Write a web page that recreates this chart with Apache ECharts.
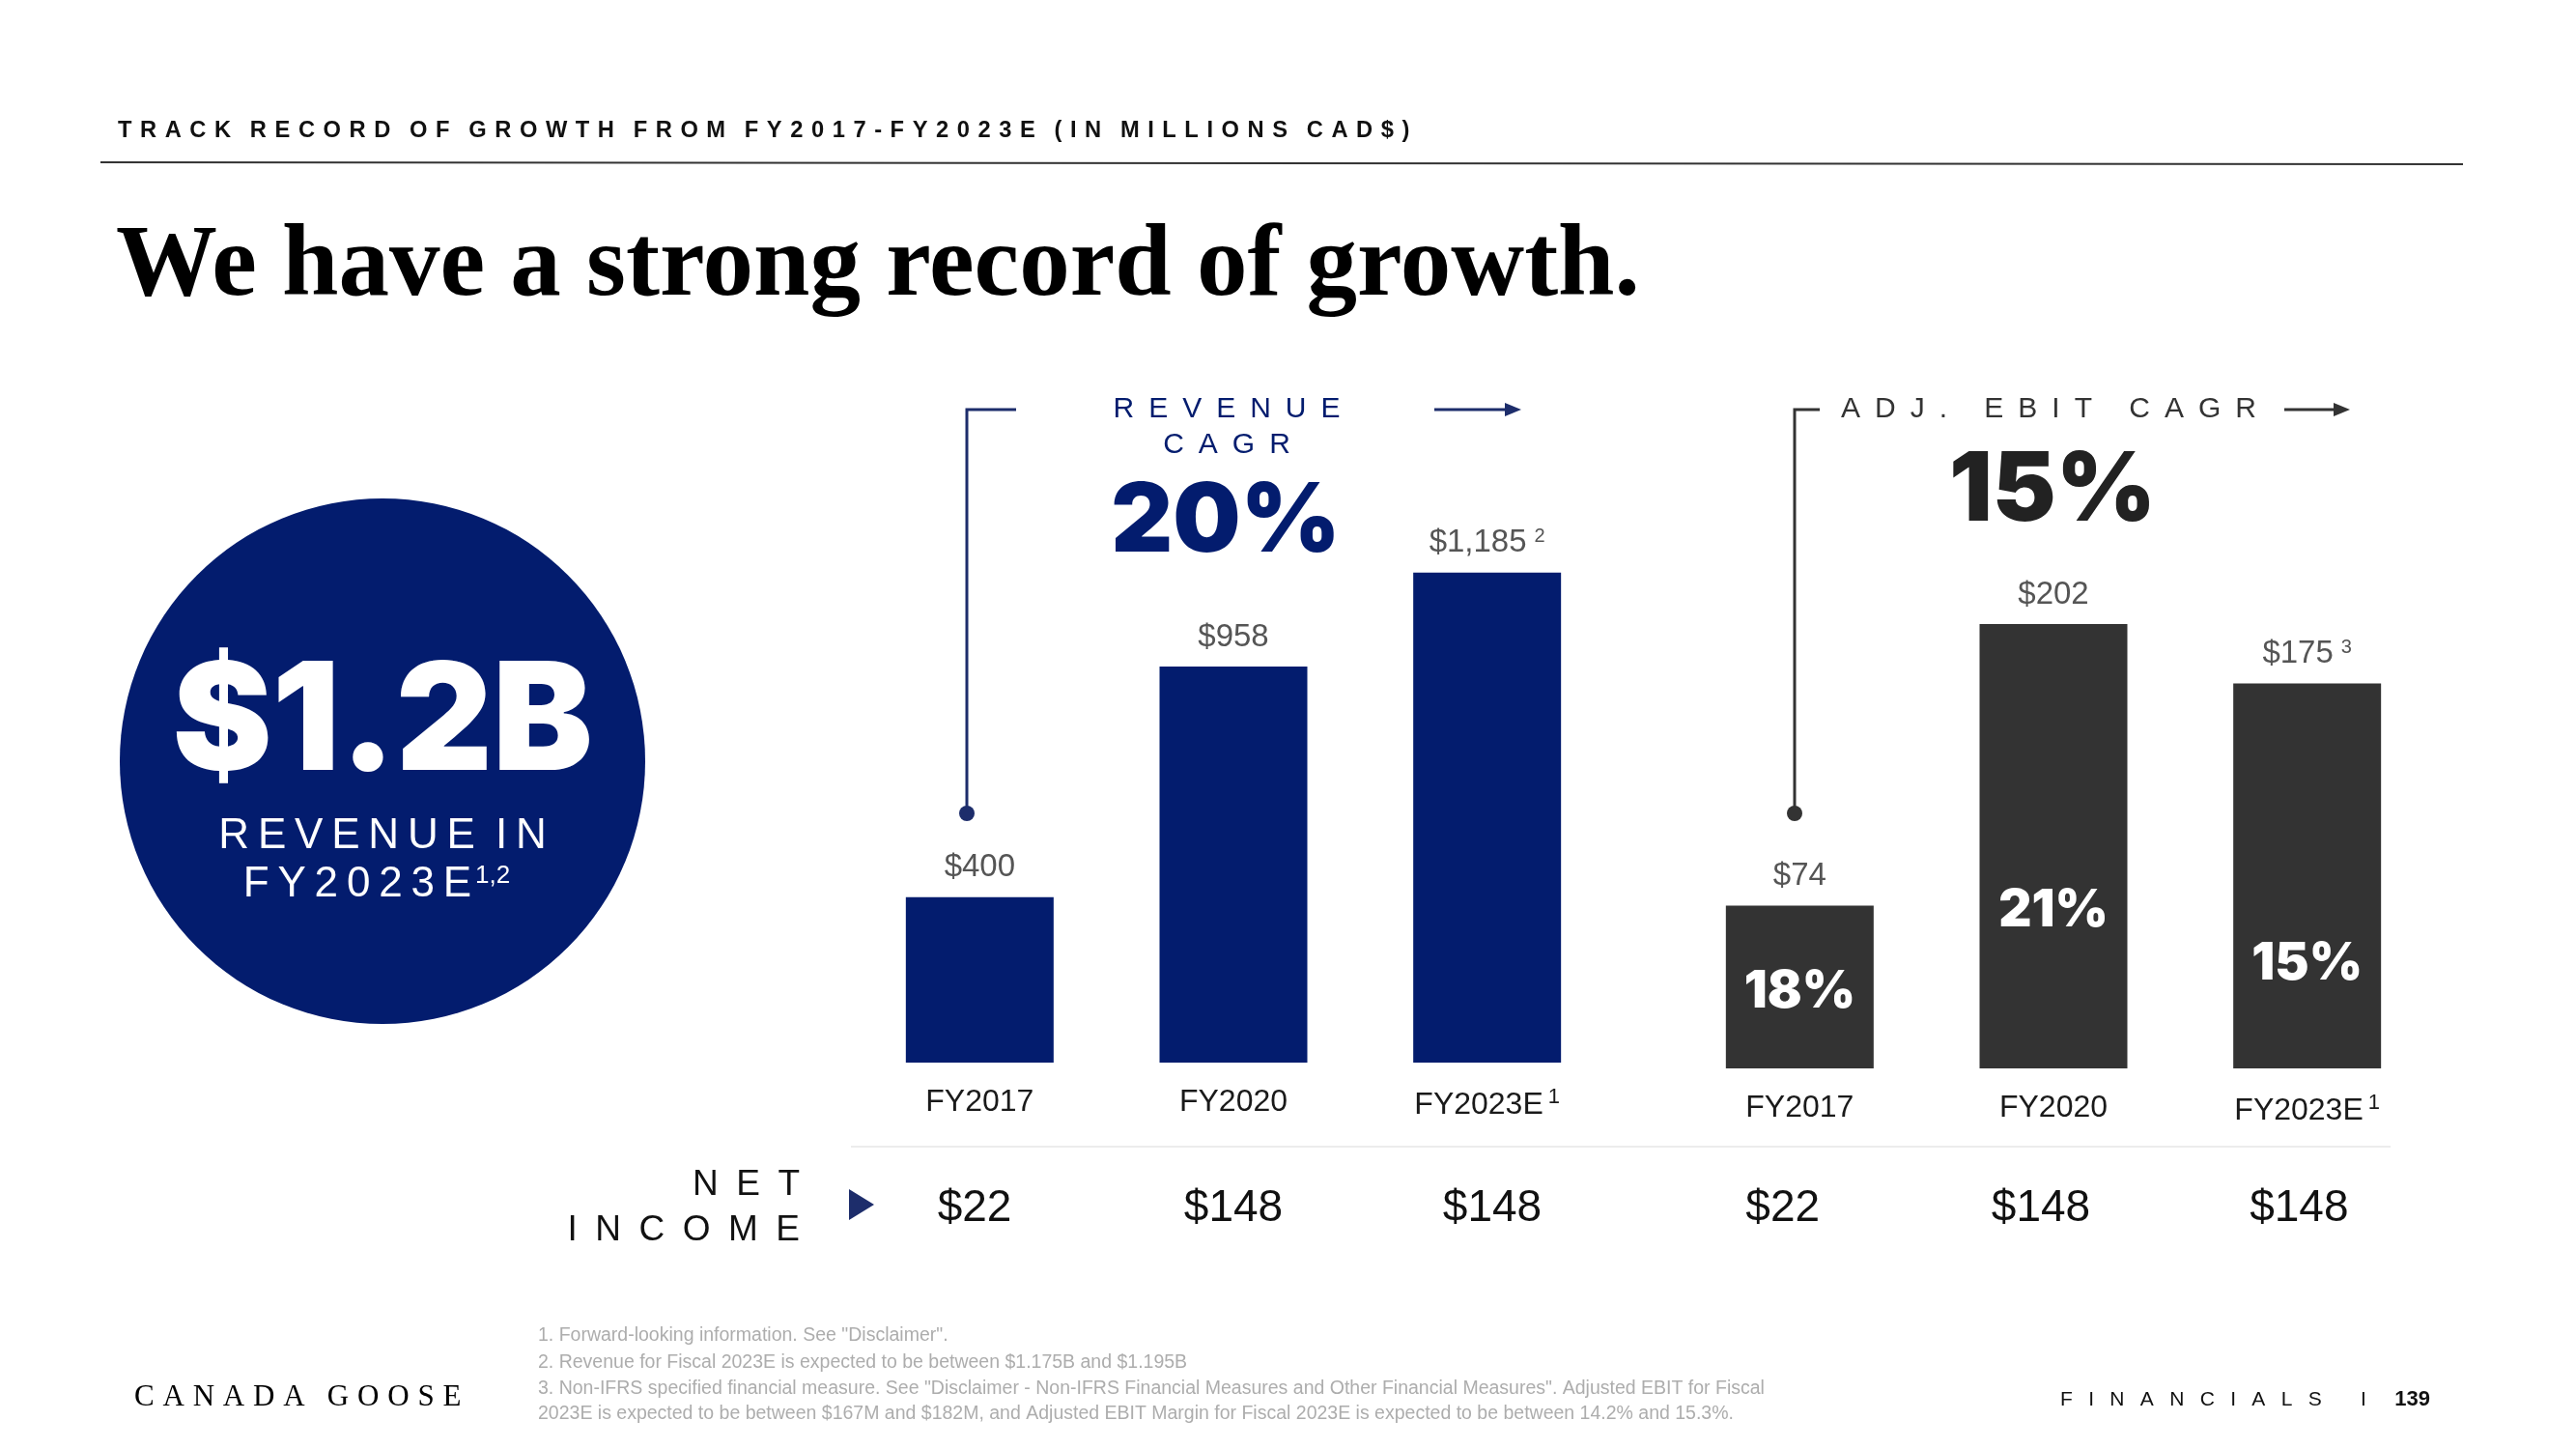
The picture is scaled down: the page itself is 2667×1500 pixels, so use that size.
<!DOCTYPE html>
<html>
<head>
<meta charset="utf-8">
<script src="https://cdn.jsdelivr.net/npm/echarts@6/dist/echarts.min.js"></script>
<style>
html,body{margin:0;padding:0;background:#fff;}
#chart{width:2667px;height:1500px;}
</style>
</head>
<body>
<div id="chart"></div>
<script>
// ---------- DATA ----------
const revenueCategories = ['FY2017', 'FY2020', 'FY2023E'];
const revenueValues = [400, 958, 1185];
const ebitCategories = ['FY2017', 'FY2020', 'FY2023E'];
const adjEbitValues = [74, 202, 175];
const adjEbitMargins = ['18%', '21%', '15%'];
const netIncomeRevenue = [22, 148, 148];
const netIncomeEbit = [22, 148, 148];
const revenueCagr = '20%';
const ebitCagr = '15%';
const categoryFootnote = { 'FY2023E': '1' };
const revenueFootnotes = ['', '', '2'];
const ebitFootnotes = ['', '', '3'];
const headlineValue = '$1.2B';
const footnotes = [
  '1. Forward-looking information. See "Disclaimer".',
  '2. Revenue for Fiscal 2023E is expected to be between $1.175B and $1.195B',
  '3. Non-IFRS specified financial measure. See "Disclaimer - Non-IFRS Financial Measures and Other Financial Measures". Adjusted EBIT for Fiscal',
  '2023E is expected to be between $167M and $182M, and Adjusted EBIT Margin for Fiscal 2023E is expected to be between 14.2% and 15.3%.'
];

// ---------- STYLE ----------
const NAVY = '#031c6e';
const DARK = '#333333';
const SANS = '"Liberation Sans", Arial, Helvetica, sans-serif';
const HEAVY = 'Inter, Roboto, "Liberation Sans", Arial, sans-serif';
const SERIF = '"Liberation Serif", "Times New Roman", serif';
const marginLabelPos = ['53%', '64.5%', '73%'];

function spaced(s, sep, wordSep) {
  return s.split(' ').map(w => w.split('').join(sep)).join(wordSep);
}
function money(v) { return '$' + v.toLocaleString('en-US'); }

const chart = echarts.init(document.getElementById('chart'), null, { renderer: 'canvas', width: 2667, height: 1500 });

const catLabel = (margin) => ({
  interval: 0, fontSize: 32, color: '#1a1a1a', fontFamily: SANS, margin: margin,
  formatter: v => categoryFootnote[v] ? v + '{sup|' + categoryFootnote[v] + '}' : v,
  rich: { sup: { fontSize: 22, color: '#1a1a1a', fontFamily: SANS, verticalAlign: 'top', padding: [0, 0, 16, 5] } }
});
const niLabel = { interval: 0, fontSize: 46, color: '#111', fontFamily: SANS, margin: 0 };
const noLine = { axisLine: { show: false }, axisTick: { show: false } };

const option = {
  backgroundColor: '#ffffff',
  animation: false,
  grid: [
    { left: 883, top: 586.4, width: 788, height: 513.6 },
    { left: 1732, top: 605, width: 788, height: 501 },
    { left: 875, top: 1200, width: 804, height: 28 },
    { left: 1712, top: 1200, width: 802, height: 28 }
  ],
  xAxis: [
    Object.assign({ type: 'category', gridIndex: 0, data: revenueCategories, axisLabel: catLabel(25) }, noLine),
    Object.assign({ type: 'category', gridIndex: 1, data: ebitCategories, axisLabel: catLabel(25) }, noLine),
    Object.assign({ type: 'category', gridIndex: 2, data: netIncomeRevenue.map(money), axisLabel: niLabel }, noLine),
    Object.assign({ type: 'category', gridIndex: 3, data: netIncomeEbit.map(money), axisLabel: niLabel }, noLine)
  ],
  yAxis: [
    { type: 'value', gridIndex: 0, min: 0, max: 1200, show: false, splitLine: { show: false } },
    { type: 'value', gridIndex: 1, min: 0, max: 220, show: false, splitLine: { show: false } },
    { type: 'value', gridIndex: 2, show: false, splitLine: { show: false } },
    { type: 'value', gridIndex: 3, show: false, splitLine: { show: false } }
  ],
  series: [
    {
      type: 'bar', xAxisIndex: 0, yAxisIndex: 0, data: revenueValues, barWidth: 153,
      itemStyle: { color: NAVY },
      label: {
        show: true, position: 'top', distance: 14, fontSize: 33, color: '#555', fontFamily: SANS,
        formatter: p => money(p.value) + (revenueFootnotes[p.dataIndex] ? '{sup|' + revenueFootnotes[p.dataIndex] + '}' : ''),
        rich: { sup: { fontSize: 20, color: '#555', fontFamily: SANS, verticalAlign: 'top', padding: [0, 0, 12, 8] } }
      }
    },
    {
      type: 'bar', xAxisIndex: 1, yAxisIndex: 1, data: adjEbitValues, barWidth: 153, barGap: '-100%',
      itemStyle: { color: DARK },
      label: {
        show: true, position: 'top', distance: 14, fontSize: 33, color: '#555', fontFamily: SANS,
        formatter: p => money(p.value) + (ebitFootnotes[p.dataIndex] ? '{sup|' + ebitFootnotes[p.dataIndex] + '}' : ''),
        rich: { sup: { fontSize: 20, color: '#555', fontFamily: SANS, verticalAlign: 'top', padding: [0, 0, 12, 8] } }
      }
    },
    {
      type: 'bar', xAxisIndex: 1, yAxisIndex: 1, barWidth: 153, barGap: '-100%', silent: true,
      itemStyle: { color: 'rgba(0,0,0,0)' },
      data: adjEbitValues.map((v, i) => ({
        value: v,
        label: { position: ['50%', marginLabelPos[i]] }
      })),
      label: {
        show: true, align: 'center', verticalAlign: 'middle', fontSize: 53, fontWeight: 900, color: '#fff', fontFamily: HEAVY,
        formatter: p => adjEbitMargins[p.dataIndex]
      }
    }
  ],
  graphic: [
    // header
    { type: 'text', style: { text: spaced('TRACK RECORD OF GROWTH FROM FY2017-FY2023E (IN MILLIONS CAD$)', ' \u200A', '   '), x: 122, y: 135, font: 'bold 23.7px ' + SANS, fill: '#111', textVerticalAlign: 'middle', verticalAlign: 'middle' } },
    { type: 'line', shape: { x1: 104, y1: 168, x2: 2550, y2: 170 }, style: { stroke: '#333', lineWidth: 2 } },
    { type: 'text', style: { text: 'We have a strong record of growth.', x: 120, y: 330, font: 'bold 105px ' + SERIF, fill: '#000', textVerticalAlign: 'bottom', verticalAlign: 'bottom' } },

    // circle
    { type: 'circle', shape: { cx: 396, cy: 788, r: 272 }, style: { fill: NAVY } },
    { type: 'text', style: { text: headlineValue, x: 396, y: 750, font: '900 155px ' + HEAVY, fill: '#fff', textAlign: 'center', align: 'center', textVerticalAlign: 'middle', verticalAlign: 'middle' } },
    { type: 'text', style: { text: spaced('REVENUE IN', '\u2009', ' \u2009'), x: 396, y: 866, font: '44px ' + SANS, fill: '#fff', textAlign: 'center', align: 'center', textVerticalAlign: 'middle', verticalAlign: 'middle' } },
    { type: 'text', style: { text: spaced('FY2023E', '\u2009', ' ') + '{sup|1,2}', x: 390, y: 916, font: '44px ' + SANS, fill: '#fff', textAlign: 'center', align: 'center', textVerticalAlign: 'middle', verticalAlign: 'middle',
      rich: { sup: { fontSize: 26, fill: '#fff', fontFamily: SANS, verticalAlign: 'top', padding: [0, 0, 14, 4] } } } },

    // revenue bracket
    { type: 'polyline', shape: { points: [[1052, 424], [1001, 424], [1001, 842]] }, style: { stroke: '#1d2d6b', lineWidth: 3, fill: null } },
    { type: 'circle', shape: { cx: 1001, cy: 842, r: 8 }, style: { fill: '#1d2d6b' } },
    { type: 'line', shape: { x1: 1485, y1: 424, x2: 1562, y2: 424 }, style: { stroke: '#1d2d6b', lineWidth: 3 } },
    { type: 'polygon', shape: { points: [[1558, 417], [1575, 424], [1558, 431]] }, style: { fill: '#1d2d6b' } },
    { type: 'text', style: { text: spaced('REVENUE', '\u2002', ' '), x: 1270, y: 424, font: '30px ' + SANS, fill: NAVY, textAlign: 'center', align: 'center', textVerticalAlign: 'middle', verticalAlign: 'middle' } },
    { type: 'text', style: { text: spaced('CAGR', '\u2002', ' '), x: 1270, y: 461, font: '30px ' + SANS, fill: NAVY, textAlign: 'center', align: 'center', textVerticalAlign: 'middle', verticalAlign: 'middle' } },
    { type: 'text', style: { text: revenueCagr, x: 1269, y: 541, font: '900 99px ' + HEAVY, fill: NAVY, textAlign: 'center', align: 'center', textVerticalAlign: 'middle', verticalAlign: 'middle' } },

    // ebit bracket
    { type: 'polyline', shape: { points: [[1884, 424], [1858, 424], [1858, 842]] }, style: { stroke: DARK, lineWidth: 3, fill: null } },
    { type: 'circle', shape: { cx: 1858, cy: 842, r: 8 }, style: { fill: DARK } },
    { type: 'line', shape: { x1: 2365, y1: 424, x2: 2420, y2: 424 }, style: { stroke: DARK, lineWidth: 3 } },
    { type: 'polygon', shape: { points: [[2416, 417], [2433, 424], [2416, 431]] }, style: { fill: DARK } },
    { type: 'text', style: { text: spaced('ADJ. EBIT CAGR', '\u2002', '\u2002 \u2002'), x: 1906, y: 424, font: '30px ' + SANS, fill: DARK, textAlign: 'left', align: 'left', textVerticalAlign: 'middle', verticalAlign: 'middle' } },
    { type: 'text', style: { text: ebitCagr, x: 2125, y: 509, font: '900 99px ' + HEAVY, fill: '#222', textAlign: 'center', align: 'center', textVerticalAlign: 'middle', verticalAlign: 'middle' } },

    // net income row
    { type: 'line', shape: { x1: 881, y1: 1187, x2: 2475, y2: 1187 }, style: { stroke: '#ececec', lineWidth: 2 } },
    { type: 'text', style: { text: spaced('NET', '\u2002', ' '), x: 828, y: 1227, font: '37px ' + SANS, fill: '#111', textAlign: 'right', align: 'right', textVerticalAlign: 'middle', verticalAlign: 'middle' } },
    { type: 'text', style: { text: spaced('INCOME', '\u2002', ' '), x: 828, y: 1274, font: '37px ' + SANS, fill: '#111', textAlign: 'right', align: 'right', textVerticalAlign: 'middle', verticalAlign: 'middle' } },
    { type: 'polygon', shape: { points: [[879, 1231], [905, 1247], [879, 1263]] }, style: { fill: '#1d2d6b' } },

    // footer
    { type: 'text', style: { text: spaced('CANADA GOOSE', '\u2009\u200A', '\u2002 '), x: 139, y: 1447, font: '31px ' + SERIF, fill: '#000', textVerticalAlign: 'middle', verticalAlign: 'middle' } },
    { type: 'text', style: { text: footnotes[0], x: 557, y: 1383, font: '19.5px ' + SANS, fill: '#adadad', textVerticalAlign: 'middle', verticalAlign: 'middle' } },
    { type: 'text', style: { text: footnotes[1], x: 557, y: 1411, font: '19.5px ' + SANS, fill: '#adadad', textVerticalAlign: 'middle', verticalAlign: 'middle' } },
    { type: 'text', style: { text: footnotes[2], x: 557, y: 1438, font: '19.5px ' + SANS, fill: '#adadad', textVerticalAlign: 'middle', verticalAlign: 'middle' } },
    { type: 'text', style: { text: footnotes[3], x: 557, y: 1464, font: '19.5px ' + SANS, fill: '#adadad', textVerticalAlign: 'middle', verticalAlign: 'middle' } },
    { type: 'text', style: { text: spaced('FINANCIALS', ' \u2002', ' '), x: 2133, y: 1449, font: '21px ' + SANS, fill: '#111', textVerticalAlign: 'middle', verticalAlign: 'middle' } },
    { type: 'text', style: { text: 'I', x: 2447, y: 1449, font: '21px ' + SANS, fill: '#111', textAlign: 'center', align: 'center', textVerticalAlign: 'middle', verticalAlign: 'middle' } },
    { type: 'text', style: { text: '139', x: 2516, y: 1449, font: 'bold 22px ' + SANS, fill: '#111', textAlign: 'right', align: 'right', textVerticalAlign: 'middle', verticalAlign: 'middle' } }
  ]
};
chart.setOption(option);
</script>
</body>
</html>
